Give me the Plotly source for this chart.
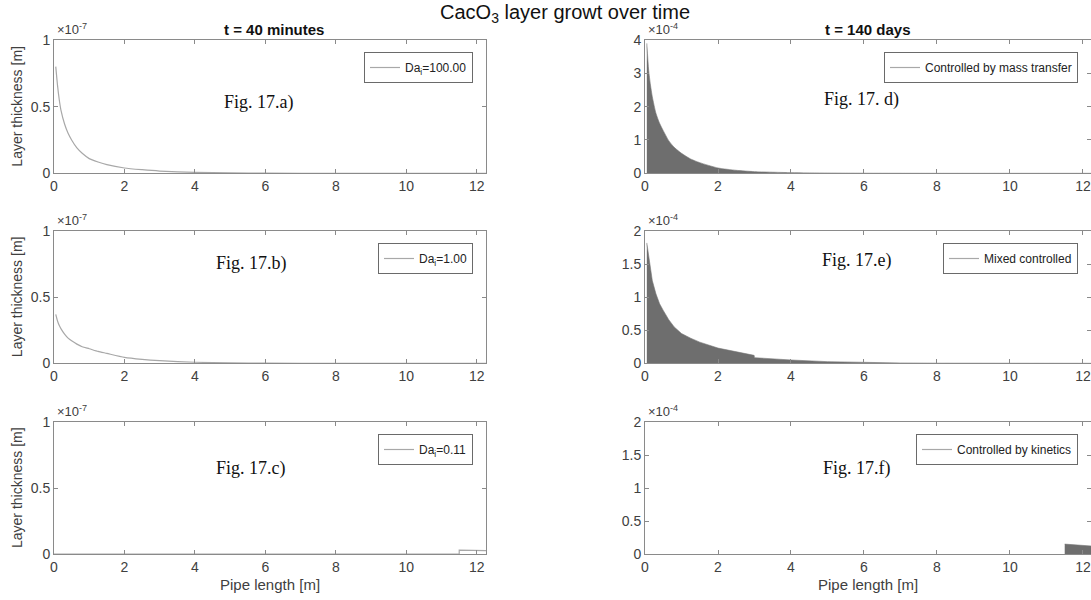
import plotly.graph_objects as go

# ---------------- data ----------------
# pipe length positions [m]
x_pipe = [0.05, 0.1, 0.15, 0.2, 0.3, 0.4, 0.5, 0.65, 0.8, 1.0, 1.25, 1.5,
          2.0, 2.5, 3.0, 4.0, 5.0, 6.0, 8.0, 10.0, 12.26]
# t = 40 minutes, layer thickness in units of 1e-7 m
da100 = [0.80, 0.66, 0.55, 0.47, 0.37, 0.30, 0.25, 0.19, 0.15, 0.11, 0.085, 0.065,
         0.04, 0.027, 0.017, 0.007, 0.003, 0.001, 0.0, 0.0, 0.0]
da1 = [0.37, 0.32, 0.285, 0.26, 0.22, 0.19, 0.17, 0.145, 0.125, 0.11, 0.09, 0.075,
       0.045, 0.03, 0.02, 0.008, 0.003, 0.001, 0.0, 0.0, 0.0]
x_da011 = [0.0, 11.5, 11.5, 12.26]
da011 = [0.0, 0.0, 0.03, 0.025]
# t = 140 days, layer thickness in units of 1e-4 m
mass_transfer = [3.9, 3.1, 2.65, 2.3, 1.8, 1.5, 1.28, 0.98, 0.78, 0.6, 0.43, 0.32,
                 0.16, 0.09, 0.05, 0.02, 0.008, 0.003, 0.0, 0.0, 0.0]
x_mixed = [0.05, 0.1, 0.15, 0.2, 0.3, 0.4, 0.5, 0.65, 0.8, 1.0, 1.25, 1.5, 2.0, 2.5,
           2.99, 3.0, 3.5, 4.0, 5.0, 6.0, 7.0, 8.0, 10.0, 12.26]
mixed = [1.82, 1.6, 1.4, 1.25, 1.05, 0.9, 0.8, 0.66, 0.55, 0.45, 0.38, 0.32, 0.23, 0.17,
         0.12, 0.085, 0.065, 0.05, 0.025, 0.012, 0.005, 0.002, 0.0, 0.0]
x_kinetics = [11.5, 12.26]
kinetics = [0.15, 0.12]

legend_left = ["Da<sub>i</sub>=100.00", "Da<sub>i</sub>=1.00", "Da<sub>i</sub>=0.11"]
legend_right = ["Controlled by mass transfer", "Mixed controlled", "Controlled by kinetics"]
fig_labels = ["Fig. 17.a)", "Fig. 17.b)", "Fig. 17.c)", "Fig. 17. d)", "Fig. 17.e)", "Fig. 17.f)"]
x_ticks = [0, 2, 4, 6, 8, 10, 12]
y_ticks_left = [0, 0.5, 1]
y_ticks_right = [[0, 1, 2, 3, 4], [0, 0.5, 1, 1.5, 2], [0, 0.5, 1, 1.5, 2]]
y_max_right = [4, 2, 2]

# ---------------- layout helpers ----------------
W, H = 1091, 600
SANS = "Liberation Sans, Arial, sans-serif"
SERIF = "Liberation Serif, Times New Roman, serif"
AX = "#8a8a8a"
TXT = "#404040"
LINE = "#a8a8a8"
FILL = "#6e6e6e"


def px(x):
    return x / W


def py(y):
    return 1 - y / H


col_px = [(54, 486), (645, 1091)]
row_px = [(40, 173.3), (231, 363.3), (422, 554)]
xr = [[0, 12.26], [0, 12.22]]

fig = go.Figure()

# panels: index k = col*3 + row
panel_data = [
    ("line", x_pipe, da100, "spline"),
    ("line", x_pipe, da1, "spline"),
    ("line", x_da011, da011, "linear"),
    ("fill", x_pipe, mass_transfer, "spline"),
    ("fill", x_mixed, mixed, "linear"),
    ("fill", x_kinetics, kinetics, "linear"),
]
names = legend_left + legend_right

annotations = []
for k in range(6):
    col, row = divmod(k, 3)
    n = k + 1
    xa = "x" if n == 1 else f"x{n}"
    ya = "y" if n == 1 else f"y{n}"
    lg = "legend" if n == 1 else f"legend{n}"
    kind, xs, ys, shape = panel_data[k]
    if kind == "line":
        fig.add_trace(go.Scatter(x=xs, y=ys, mode="lines", name=names[k],
                                 line=dict(color=LINE, width=1.2, shape=shape, smoothing=0.6),
                                 xaxis=xa, yaxis=ya, legend=lg, showlegend=True))
    else:
        fig.add_trace(go.Scatter(x=xs, y=ys, mode="lines", fill="tozeroy",
                                 fillcolor=FILL,
                                 line=dict(color="#777777", width=0.6, shape=shape, smoothing=0.6),
                                 xaxis=xa, yaxis=ya, showlegend=False))
        fig.add_trace(go.Scatter(x=[None], y=[None], mode="lines", name=names[k],
                                 line=dict(color=LINE, width=1.2),
                                 xaxis=xa, yaxis=ya, legend=lg, showlegend=True))

    c0, c1 = col_px[col]
    r0, r1 = row_px[row]
    if col == 0:
        yt = y_ticks_left
        yrange = [0, 1]
    else:
        yt = y_ticks_right[row]
        yrange = [0, y_max_right[row]]

    axis_common = dict(showline=True, linecolor=AX, linewidth=1, mirror="allticks",
                       ticks="inside", ticklen=4, tickcolor=AX, tickwidth=1,
                       showgrid=False, zeroline=False,
                       tickfont=dict(family=SANS, size=14, color=TXT))
    fig.layout[("xaxis" if n == 1 else f"xaxis{n}")] = dict(
        domain=[px(c0), min(px(c1), 1.0)], range=xr[col], anchor=ya,
        tickvals=x_ticks, automargin=False, **axis_common)
    fig.layout[("yaxis" if n == 1 else f"yaxis{n}")] = dict(
        domain=[py(r1), py(r0)], range=yrange, anchor=xa,
        tickvals=yt, ticktext=[f"{v:g}" for v in yt], automargin=False, **axis_common)

    # legend box
    leg_right = 473 if col == 0 else 1078
    leg_top = r0 + 12
    fig.layout[lg] = dict(x=px(leg_right), y=py(leg_top), xanchor="right", yanchor="top",
                          bgcolor="white", bordercolor="#6a6a6a", borderwidth=1,
                          font=dict(family=SANS, size=12, color="#222222"),
                          itemwidth=30, tracegroupgap=0)

    # exponent label
    annotations.append(dict(x=px(c0 + 1), y=py(r0 - 1), xref="paper", yref="paper",
                            xanchor="left", yanchor="bottom", showarrow=False,
                            text="×10<sup>-7</sup>" if col == 0 else "×10<sup>-4</sup>",
                            font=dict(family=SANS, size=13, color=TXT)))

# figure labels (Times)
fig_label_px = [(259, 103), (251, 263), (251, 468), (861, 100), (857, 260), (857, 468)]
for lab, (lx, ly) in zip(fig_labels, fig_label_px):
    annotations.append(dict(x=px(lx), y=py(ly), xref="paper", yref="paper",
                            xanchor="center", yanchor="middle", showarrow=False, text=lab,
                            font=dict(family=SERIF, size=18, color="#111111")))

# y-axis titles (left column)
for r0, r1 in row_px:
    annotations.append(dict(x=px(17), y=py((r0 + r1) / 2), xref="paper", yref="paper",
                            xanchor="center", yanchor="middle", showarrow=False,
                            textangle=-90, text="Layer thickness [m]",
                            font=dict(family=SANS, size=14, color=TXT)))

# x-axis titles
for cx in (270, 868):
    annotations.append(dict(x=px(cx), y=py(584), xref="paper", yref="paper",
                            xanchor="center", yanchor="middle", showarrow=False,
                            text="Pipe length [m]",
                            font=dict(family=SANS, size=15, color=TXT)))

# column titles
annotations.append(dict(x=px(274), y=py(29), xref="paper", yref="paper",
                        xanchor="center", yanchor="middle", showarrow=False,
                        text="<b>t = 40 minutes</b>",
                        font=dict(family=SANS, size=15, color="#111111")))
annotations.append(dict(x=px(867), y=py(29), xref="paper", yref="paper",
                        xanchor="center", yanchor="middle", showarrow=False,
                        text="<b>t = 140 days</b>",
                        font=dict(family=SANS, size=15, color="#111111")))
# main title
annotations.append(dict(x=px(565), y=py(14), xref="paper", yref="paper",
                        xanchor="center", yanchor="middle", showarrow=False,
                        text="CacO<sub>3</sub> layer growt over time",
                        font=dict(family=SANS, size=20, color="#111111")))

fig.update_layout(width=W, height=H, margin=dict(l=0, r=0, t=0, b=0),
                  paper_bgcolor="white", plot_bgcolor="white",
                  annotations=annotations, showlegend=True)

fig.write_html("out.html")
